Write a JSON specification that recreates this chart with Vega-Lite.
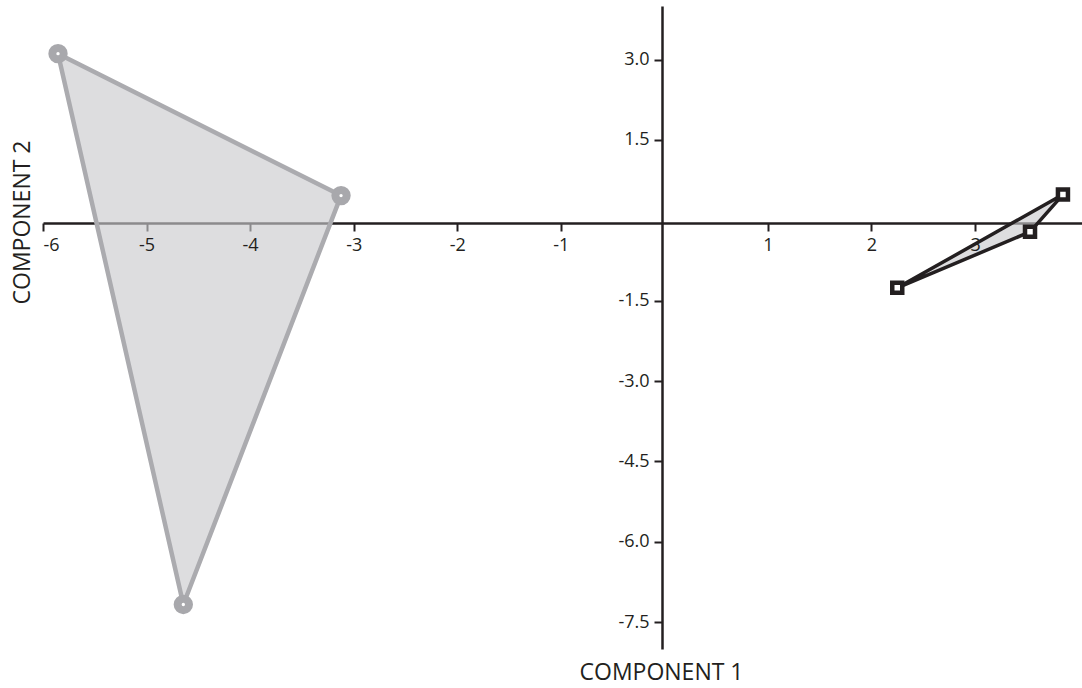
{
  "$schema": "https://vega.github.io/schema/vega-lite/v6.json",
  "width": 1039,
  "height": 643,
  "autosize": "none",
  "padding": {"left": 43, "top": 6, "right": 0, "bottom": 39},
  "background": "white",
  "config": {
    "view": {"stroke": null},
    "font": "Open Sans",
    "axis": {
      "grid": false,
      "domainColor": "#231f20",
      "domainWidth": 2.5,
      "tickColor": "#231f20",
      "tickWidth": 2,
      "tickSize": 8,
      "labelFont": "Open Sans",
      "labelFontSize": 18,
      "labelColor": "#231f20",
      "labelPadding": 5,
      "titleFont": "Open Sans",
      "titleFontSize": 23,
      "titleFontWeight": "normal",
      "titleColor": "#231f20"
    }
  },
  "data": {
    "values": [
      {"group": "A", "order": 1, "x": -5.855, "y": 3.11},
      {"group": "A", "order": 2, "x": -3.122, "y": 0.462},
      {"group": "A", "order": 3, "x": -4.645, "y": -7.17},
      {"group": "B", "order": 1, "x": 3.849, "y": 0.481},
      {"group": "B", "order": 2, "x": 3.531, "y": -0.215},
      {"group": "B", "order": 3, "x": 2.249, "y": -1.26}
    ]
  },
  "resolve": {"axis": {"x": "independent", "y": "independent"}},
  "layer": [
    {
      "transform": [{"filter": "datum.group === 'A'"}],
      "mark": {"type": "line", "interpolate": "linear-closed", "stroke": "#ababaf", "strokeWidth": 4.5, "fill": "#c9c9cc", "fillOpacity": 0.63, "strokeJoin": "round"},
      "encoding": {
        "x": {
          "field": "x", "type": "quantitative",
          "scale": {"domain": [-6, 4.033], "nice": false, "zero": false},
          "axis": {
            "orient": "bottom", "offset": -426, "zindex": 0,
            "values": [-6, -5, -4, -3, -2, -1, 1, 2, 3],
            "labels": false,
            "title": "COMPONENT 1",
            "titleX": 618, "titleY": 456, "titleAlign": "center", "titleBaseline": "alphabetic"
          }
        },
        "y": {
          "field": "y", "type": "quantitative",
          "scale": {"domain": [-8, 4], "nice": false, "zero": false},
          "axis": {
            "orient": "left", "offset": -619, "zindex": 0,
            "values": [3, 1.5, -1.5, -3, -4.5, -6, -7.5],
            "labels": false,
            "title": "COMPONENT 2",
            "titleAngle": -90, "titleX": -633, "titleY": 216, "titleAlign": "center", "titleBaseline": "alphabetic"
          }
        },
        "order": {"field": "order", "type": "quantitative"}
      }
    },
    {
      "transform": [{"filter": "datum.group === 'A'"}],
      "mark": {"type": "point", "shape": "circle", "filled": false, "fill": "white", "stroke": "#a8a8ac", "strokeWidth": 8, "size": 129, "opacity": 1, "fillOpacity": 1},
      "encoding": {
        "x": {
          "field": "x", "type": "quantitative",
          "axis": {
            "orient": "bottom", "offset": -426, "zindex": 1,
            "values": [-6, -5, -4, -3, -2, -1, 1, 2, 3],
            "domain": false, "tickOpacity": 0,
            "labelExpr": "datum.value < 0 ? '-' + format(-datum.value, 'd') : format(datum.value, 'd')",
            "title": null
          }
        },
        "y": {
          "field": "y", "type": "quantitative",
          "axis": {
            "orient": "left", "offset": -619, "zindex": 1,
            "values": [3, 1.5, -1.5, -3, -4.5, -6, -7.5],
            "domain": false, "tickOpacity": 0,
            "labelExpr": "datum.value < 0 ? '-' + format(-datum.value, '.1f') : format(datum.value, '.1f')",
            "title": null
          }
        }
      }
    },
    {
      "transform": [{"filter": "datum.group === 'B'"}],
      "mark": {"type": "line", "interpolate": "linear-closed", "stroke": "#231f20", "strokeWidth": 3.5, "fill": "#c9c9cc", "fillOpacity": 0.63},
      "encoding": {
        "x": {"field": "x", "type": "quantitative", "axis": null},
        "y": {"field": "y", "type": "quantitative", "axis": null},
        "order": {"field": "order", "type": "quantitative"}
      }
    },
    {
      "transform": [{"filter": "datum.group === 'B'"}],
      "mark": {"type": "point", "shape": "square", "filled": false, "fill": "white", "stroke": "#231f20", "strokeWidth": 4.5, "size": 100, "opacity": 1, "fillOpacity": 1},
      "encoding": {
        "x": {"field": "x", "type": "quantitative", "axis": null},
        "y": {"field": "y", "type": "quantitative", "axis": null}
      }
    }
  ]
}
